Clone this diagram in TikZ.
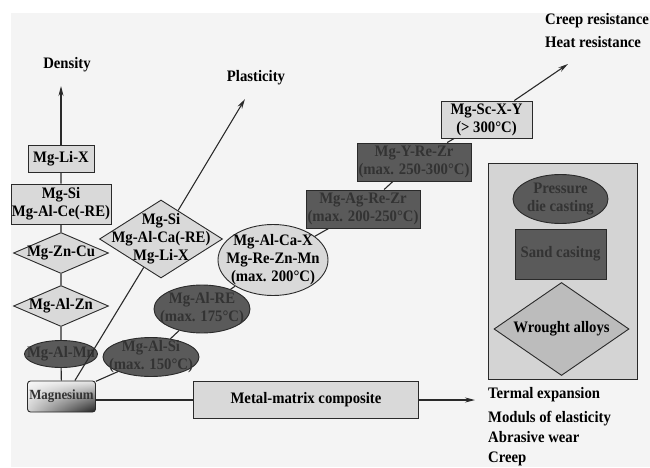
\documentclass[tikz,border=0pt]{standalone}
\usepackage{fontspec}
\setmainfont[FakeStretch=0.92]{Liberation Serif}
\usetikzlibrary{shapes.geometric, arrows.meta, shadings}
\definecolor{bggray}{HTML}{F4F4F4}
\definecolor{lightfill}{HTML}{D9D9D9}
\definecolor{darkfill}{HTML}{5A5A5A}
\definecolor{darktext}{HTML}{333333}
\definecolor{panelfill}{HTML}{D4D4D4}
\definecolor{midfill}{HTML}{BCBCBC}
\definecolor{edge}{HTML}{2A2A2A}

\begin{document}
\begin{tikzpicture}[x=1pt, y=1pt, font=\bfseries\fontsize{16}{18}\selectfont,
	>={Stealth[length=10pt, width=5pt]}]
			\tikzstyle{box}=[
			draw=edge,
			line width=0.9pt,
			rectangle,
			align=center,
			inner sep=1pt,
			fill=lightfill]
			\tikzstyle{darkbox}=[box, fill=darkfill, text=darktext]
			\tikzstyle{oval}=[
			draw=edge,
			line width=0.9pt,
			ellipse,
			inner sep=0pt,
			fill=lightfill]
			\tikzstyle{darkoval}=[oval, fill=darkfill]
			\tikzstyle{rhomb}=[
			draw=edge,
			line width=0.9pt,
			diamond,
			inner sep=0pt,
			fill=lightfill]
			\tikzstyle{inner}=[align=center, inner sep=0pt]
			\tikzstyle{darkinner}=[inner, text=darktext]
			\tikzstyle{link}=[draw=edge, line width=1.1pt]
			\tikzstyle{prop}=[anchor=base west, inner sep=0pt]
			%
			\useasboundingbox (0,0) rectangle (650,467);
			\fill[bggray] (11,0) rectangle (650,454);
			%
			% density column
			\node[box, minimum width=66pt, minimum height=27pt] (LiX) at (61,308.5) {Mg-Li-X};
			\node[box, minimum width=98pt, minimum height=40pt] (SiCe) at (61,263) {Mg-Si\\Mg-Al-Ce(-RE)};
			\node[rhomb, minimum width=95pt, minimum height=41pt, label={[inner]center:Mg-Zn-Cu}] (ZnCu) at (61,214) {};
			\node[rhomb, minimum width=95pt, minimum height=41pt, label={[inner]center:Mg-Al-Zn}] (AlZn) at (61,161) {};
			\node[darkoval, minimum width=73pt, minimum height=27pt, label={[darkinner]center:Mg-Al-Mn}] (AlMn) at (61,113) {};
			\node[box, rounded corners=3pt, minimum width=68pt, minimum height=31pt,
				upper left=gray!5, upper right=gray!20, lower left=gray!35, lower right=gray!25!black,
				text=darktext, font=\bfseries\fontsize{14}{16}\selectfont] (Mg) at (61.5,70.5) {Magnesium};
			\node[anchor=base] (Dens) at (67,399) {Density};
			\coordinate (DensTip) at (61,381);
			%
			% plasticity
			\node[rhomb, minimum width=123pt, minimum height=78pt,
				label={[inner]center:Mg-Si\\Mg-Al-Ca(-RE)\\Mg-Li-X}] (SiCa) at (161,228) {};
			\node[anchor=base] (Plast) at (256,385) {Plasticity};
			\coordinate (PlastTip) at (245,368);
			%
			% heat resistance chain
			\node[darkoval, minimum width=96pt, minimum height=39pt,
				label={[darkinner]center:Mg-Al-Si\\(max. 150°C)}] (AlSi) at (151,110) {};
			\node[darkoval, minimum width=96pt, minimum height=48pt,
				label={[darkinner]center:Mg-Al-RE\\(max. 175°C)}] (AlRE) at (202,158) {};
			\node[oval, minimum width=110pt, minimum height=71pt,
				label={[inner]center:Mg-Al-Ca-X\\Mg-Re-Zn-Mn\\(max. 200°C)}] (AlCa) at (273,207) {};
			\node[darkbox, minimum width=114pt, minimum height=38pt] (AgRe) at (363,258) {Mg-Ag-Re-Zr\\(max. 200-250°C)};
			\node[darkbox, minimum width=114pt, minimum height=38pt] (YRe) at (414,305) {Mg-Y-Re-Zr\\(max. 250-300°C)};
			\node[box, minimum width=91pt, minimum height=37pt] (ScXY) at (486.5,347.5) {Mg-Sc-X-Y\\(> 300°C)};
			\coordinate (CreepTip) at (568,403);
			\node[prop] (Creep) at (545,442) {Creep resistance};
			\node[prop] (Heat) at (545,419) {Heat resistance};
			%
			% processing panel
			\node[box, fill=panelfill, minimum width=149pt, minimum height=216pt] (Panel) at (562.5,196) {};
			\node[darkoval, minimum width=95pt, minimum height=49pt,
				label={[darkinner]center:Pressure\\die casting}] (PDC) at (560.5,268) {};
			\node[darkbox, minimum width=91pt, minimum height=50pt] (Sand) at (560.5,213) {Sand casitng};
			\node[rhomb, fill=midfill, minimum width=135pt, minimum height=93pt,
				label={[inner]center:Wrought alloys}] (Wrought) at (561.5,138) {};
			%
			% composites
			\node[box, minimum width=225pt, minimum height=37pt] (MMC) at (306,67) {Metal-matrix composite};
			\coordinate (MMCTip) at (475,67);
			\node[prop] (Therm) at (488,69) {Termal expansion};
			\node[prop] (Elast) at (488,45) {Moduls of elasticity};
			\node[prop] (Wear) at (488,24.5) {Abrasive wear};
			\node[prop] (CreepB) at (488,4.5) {Creep};
			%
			\path[link] (Mg) -- (AlMn) (AlMn) -- (AlZn) (AlZn) -- (ZnCu) (ZnCu) -- (SiCe) (SiCe) -- (LiX);
			\draw[link, ->] (LiX) -- (DensTip);
			\path[link] (Mg.50) -- (SiCa);
			\draw[link, ->] (SiCa) -- (PlastTip);
			\path[link] (Mg) -- (AlSi) (AlSi) -- (AlRE) (AlRE) -- (AlCa) (AlCa) -- (AgRe) (AgRe) -- (YRe) (YRe) -- (ScXY);
			\draw[link, ->] (ScXY) -- (CreepTip);
			\path[link] (Mg.east |- MMC) -- (MMC);
			\draw[link, ->] (MMC) -- (MMCTip);
		\end{tikzpicture}
\end{document}
